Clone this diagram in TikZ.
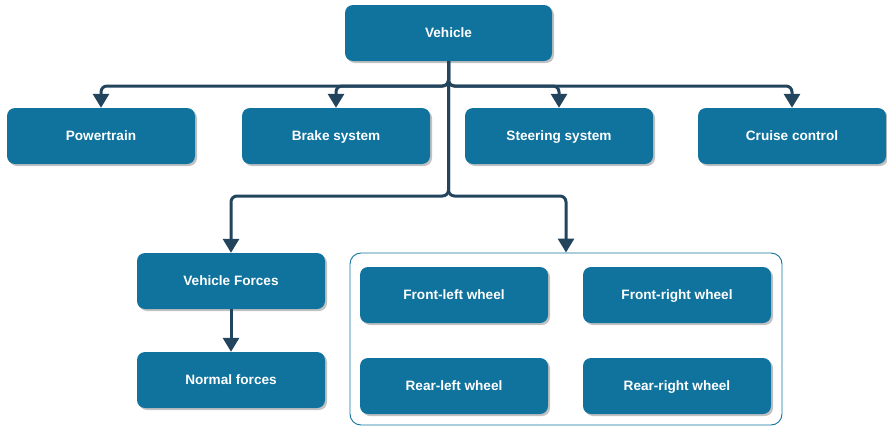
\documentclass[tikz,border=0pt]{standalone}
\usepackage{fontspec}
\setmainfont{Liberation Sans}
\usetikzlibrary{arrows.meta,shadows}
\definecolor{boxfill}{HTML}{10739E}
\definecolor{linkcol}{HTML}{23445D}

\begin{document}
\begin{tikzpicture}[x=1pt,y=-1pt,
  block/.style={fill=boxfill, rounded corners=8pt, minimum width=188pt,
    minimum height=56pt, inner sep=0pt, text=white,
    text height=9.7pt, text depth=0pt,
    font=\fontsize{13.6}{16}\selectfont\bfseries,
    drop shadow={shadow xshift=2pt, shadow yshift=-2pt, fill=black!40, opacity=0.6}},
  group/.style={draw=boxfill, line width=0.9pt, rounded corners=11pt,
    minimum width=432pt, minimum height=172pt, inner sep=0pt},
  link/.style={draw=linkcol, line width=3pt, rounded corners=6pt,
    -{Triangle[length=14pt,width=16pt]}}
]
\useasboundingbox (0,0) rectangle (887,426);

% top level
\node[block, minimum width=207pt] (veh) at (448.5,33) {Vehicle};

% subsystems
\node[block] (pt)  at (101,136) {Powertrain};
\node[block] (bs)  at (336,136) {Brake system};
\node[block] (ss)  at (559,136) {Steering system};
\node[block] (cc)  at (792,136) {Cruise control};

% forces
\node[block] (vf) at (231,281) {Vehicle Forces};
\node[block] (nf) at (231,380) {Normal forces};

% wheels group
\node[group] (wh) at (566,339) {};
\node[block] (fl) at (454,295) {Front-left wheel};
\node[block] (fr) at (677,295) {Front-right wheel};
\node[block] (rl) at (454,386) {Rear-left wheel};
\node[block] (rr) at (677,386) {Rear-right wheel};

% connectors
\coordinate (bus1) at (448.5,86);
\coordinate (bus2) at (448.5,196);
\foreach \t in {pt,bs,ss,cc}
  \draw[link] (veh.south) -- (bus1) -| (\t.north);
\draw[link] (veh.south) -- (bus2) -| (vf.north);
\draw[link] (veh.south) -- (bus2) -| (wh.north);
\draw[link] (vf.south) -- (nf.north);
\end{tikzpicture}
\end{document}
